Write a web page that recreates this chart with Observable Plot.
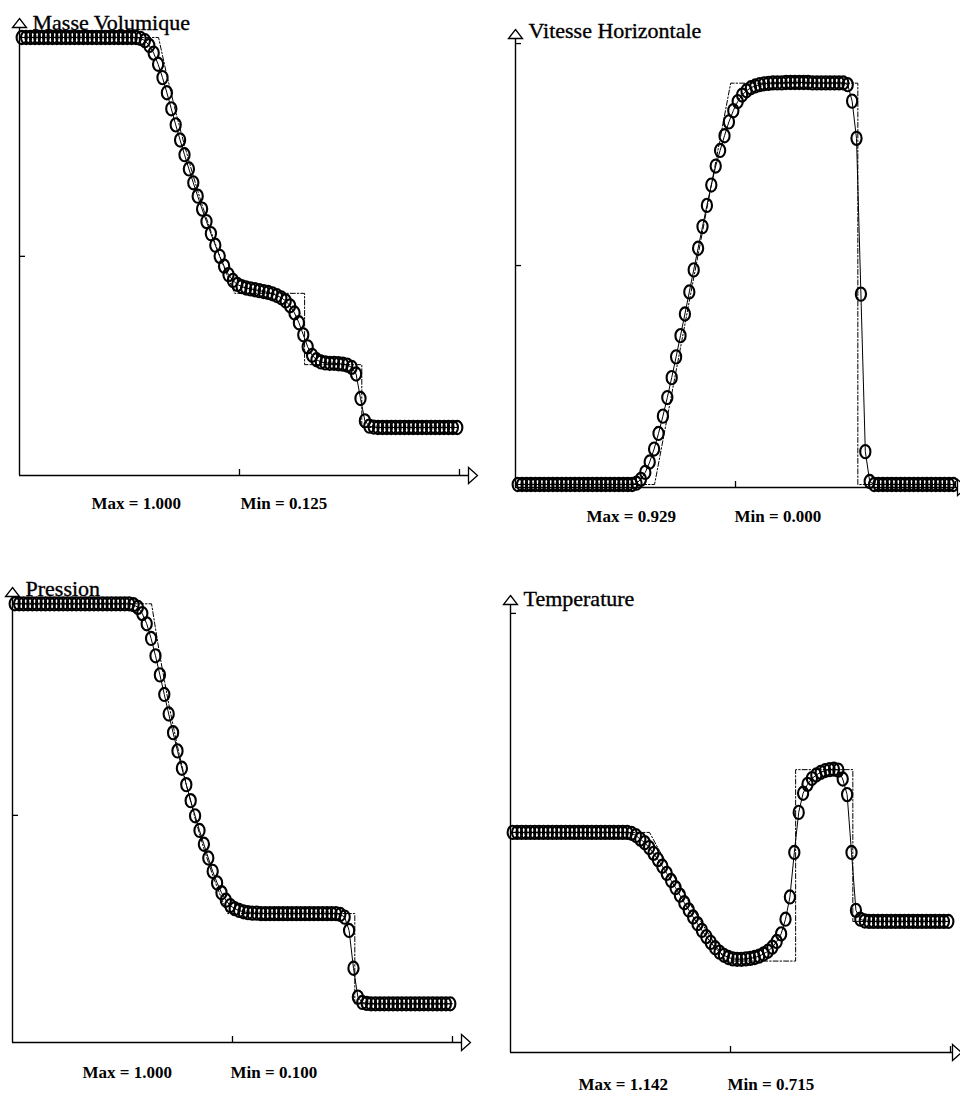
<!DOCTYPE html>
<html>
<head>
<meta charset="utf-8">
<script src="https://cdn.jsdelivr.net/npm/d3@7"></script>
<script src="https://cdn.jsdelivr.net/npm/@observablehq/plot@0.6"></script>
<style>
  html, body { margin: 0; padding: 0; background: #fff; }
  #chart { position: relative; width: 960px; height: 1094px; overflow: hidden; background: #fff; }
  .panel { position: absolute; width: 480px; height: 547px; }
  .panel svg { overflow: visible; }
</style>
</head>
<body>
<div id="chart"></div>
<script>
// ---- cell centres (100 cells on [0,1]) ----
const xCells = [0.005,0.015,0.025,0.035,0.045,0.055,0.065,0.075,0.085,0.095,
0.105,0.115,0.125,0.135,0.145,0.155,0.165,0.175,0.185,0.195,
0.205,0.215,0.225,0.235,0.245,0.255,0.265,0.275,0.285,0.295,
0.305,0.315,0.325,0.335,0.345,0.355,0.365,0.375,0.385,0.395,
0.405,0.415,0.425,0.435,0.445,0.455,0.465,0.475,0.485,0.495,
0.505,0.515,0.525,0.535,0.545,0.555,0.565,0.575,0.585,0.595,
0.605,0.615,0.625,0.635,0.645,0.655,0.665,0.675,0.685,0.695,
0.705,0.715,0.725,0.735,0.745,0.755,0.765,0.775,0.785,0.795,
0.805,0.815,0.825,0.835,0.845,0.855,0.865,0.875,0.885,0.895,
0.905,0.915,0.925,0.935,0.945,0.955,0.965,0.975,0.985,0.995];

// ---- numerical solution (circles) ----
const density = [1,1,1,1,1,1,1,1,1,1,
1,1,1,1,1,1,1,1,1,1,
1,1,1,1,1,1,1,0.998,0.993,0.982,
0.965,0.940,0.910,0.876,0.840,0.804,0.770,0.737,0.705,0.674,
0.644,0.615,0.587,0.560,0.534,0.509,0.487,0.468,0.455,0.446,
0.441,0.438,0.436,0.434,0.432,0.430,0.428,0.425,0.421,0.416,
0.409,0.398,0.382,0.360,0.333,0.306,0.287,0.277,0.272,0.270,
0.269,0.269,0.268,0.267,0.265,0.260,0.245,0.190,0.140,0.128,
0.126,0.125,0.125,0.125,0.125,0.125,0.125,0.125,0.125,0.125,
0.125,0.125,0.125,0.125,0.125,0.125,0.125,0.125,0.125,0.125];

const velocity = [0,0,0,0,0,0,0,0,0,0,
0,0,0,0,0,0,0,0,0,0,
0,0,0,0,0,0,0,0.003,0.012,0.028,
0.052,0.082,0.118,0.158,0.201,0.247,0.295,0.344,0.394,0.445,
0.496,0.546,0.596,0.645,0.692,0.736,0.772,0.806,0.838,0.864,
0.885,0.900,0.910,0.917,0.921,0.924,0.926,0.927,0.928,0.928,
0.928,0.929,0.929,0.929,0.929,0.929,0.929,0.928,0.928,0.928,
0.928,0.928,0.928,0.928,0.928,0.924,0.886,0.800,0.440,0.076,
0.007,0,0,0,0,0,0,0,0,0,
0,0,0,0,0,0,0,0,0,0];

const pressure = [1,1,1,1,1,1,1,1,1,1,
1,1,1,1,1,1,1,1,1,1,
1,1,1,1,1,1,1,0.998,0.992,0.978,
0.955,0.922,0.883,0.840,0.796,0.752,0.710,0.669,0.630,0.593,
0.557,0.523,0.490,0.459,0.428,0.398,0.372,0.350,0.333,0.321,
0.314,0.310,0.307,0.305,0.304,0.304,0.303,0.303,0.303,0.303,
0.303,0.303,0.303,0.303,0.303,0.303,0.303,0.303,0.303,0.303,
0.303,0.303,0.303,0.303,0.301,0.295,0.265,0.180,0.115,0.103,
0.101,0.100,0.100,0.100,0.100,0.100,0.100,0.100,0.100,0.100,
0.100,0.100,0.100,0.100,0.100,0.100,0.100,0.100,0.100,0.100];

const temperature = [1,1,1,1,1,1,1,1,1,1,
1,1,1,1,1,1,1,1,1,1,
1,1,1,1,1,1,1,0.998,0.993,0.985,
0.977,0.966,0.953,0.939,0.924,0.908,0.892,0.876,0.859,0.842,
0.826,0.810,0.795,0.780,0.766,0.753,0.741,0.731,0.724,0.719,
0.716,0.715,0.715,0.716,0.717,0.719,0.722,0.727,0.733,0.742,
0.755,0.772,0.805,0.855,0.955,1.045,1.088,1.108,1.121,1.129,
1.135,1.139,1.141,1.142,1.140,1.120,1.085,0.955,0.825,0.805,
0.801,0.800,0.800,0.800,0.800,0.800,0.800,0.800,0.800,0.800,
0.800,0.800,0.800,0.800,0.800,0.800,0.800,0.800,0.800,0.800];

// ---- exact solution (dash-dot line) ----
const fanX = [0, 0.316, 0.335, 0.355, 0.375, 0.395, 0.415, 0.435, 0.455, 0.475, 0.489];
const densityExactX = [...fanX, 0.648, 0.648, 0.778, 0.778, 1.0];
const densityExact = [1, 1, 0.915, 0.833, 0.758, 0.689, 0.624, 0.565, 0.510, 0.459, 0.426, 0.426, 0.266, 0.266, 0.125, 0.125];
const velocityExactX = [0, 0.316, 0.489, 0.778, 0.778, 1.0];
const velocityExact = [0, 0, 0.9275, 0.9275, 0, 0];
const pressureExactX = [...fanX, 0.778, 0.778, 1.0];
const pressureExact = [1, 1, 0.883, 0.775, 0.679, 0.593, 0.517, 0.449, 0.389, 0.337, 0.303, 0.303, 0.100, 0.100];
const temperatureExactX = [...fanX, 0.648, 0.648, 0.778, 0.778, 1.0];
const temperatureExact = [1, 1, 0.965, 0.930, 0.895, 0.861, 0.828, 0.796, 0.764, 0.733, 0.711, 0.711, 1.141, 1.141, 0.800, 0.800];

// ---- titles ----
const titles = ["Masse Volumique", "Vitesse Horizontale", "Pression", "Temperature"];

// ---- layout (positions/sizes only) ----
const W = 480, H = 547;
const panels = [
  {title: titles[0], values: density, exX: densityExactX, ex: densityExact,
   left: 0, top: 0, mL: 19, mR: 12, mT: 27, mB: 72, xMax: 1.0205, yMin: 0.0173, yMax: 1.0224,
   yTicks: [0.509], xTicks: [0.5, 1.0], titleDy: 2, labelDy: 33, maxDx: 72, minDx: 221},
  {title: titles[1], values: velocity, exX: velocityExactX, ex: velocityExact,
   left: 480, top: 0, mL: 35, mR: 3, mT: 38, mB: 60, xMax: 1.0045, yMin: -0.0069, yMax: 1.0307,
   yTicks: [0.506, 1.019], xTicks: [0.5, 1.0], titleDy: -1, labelDy: 34, maxDx: 71, minDx: 219},
  {title: titles[2], values: pressure, exX: pressureExactX, ex: pressureExact,
   left: 0, top: 547, mL: 12, mR: 19, mT: 49, mB: 52, xMax: 1.0205, yMin: 0.0129, yMax: 1.0164,
   yTicks: [0.524], xTicks: [0.5, 1.0], titleDy: -1, labelDy: 35, maxDx: 70, minDx: 218},
  {title: titles[3], values: temperature, exX: temperatureExactX, ex: temperatureExact,
   left: 480, top: 547, mL: 30, mR: 8, mT: 57, mB: 42, xMax: 1.0045, yMin: 0.5056, yMax: 1.512,
   yTicks: [1.492], xTicks: [0.5, 1.0], titleDy: 1, labelDy: 37, maxDx: 68, minDx: 217}
];

// custom symbols: ring (slightly tall ellipse) and hollow axis arrows
const ring = {
  draw(ctx) {
    const rx = 5.1, ry = 6.6, k = 0.5523;
    ctx.moveTo(rx, 0);
    ctx.bezierCurveTo(rx, ry * k, rx * k, ry, 0, ry);
    ctx.bezierCurveTo(-rx * k, ry, -rx, ry * k, -rx, 0);
    ctx.bezierCurveTo(-rx, -ry * k, -rx * k, -ry, 0, -ry);
    ctx.bezierCurveTo(rx * k, -ry, rx, -ry * k, rx, 0);
    ctx.closePath();
  }
};
const arrowUp = {
  draw(ctx) { ctx.moveTo(0, -9); ctx.lineTo(7, 0); ctx.lineTo(-7, 0); ctx.closePath(); }
};
const arrowRight = {
  draw(ctx) { ctx.moveTo(9, 0); ctx.lineTo(0, -8); ctx.lineTo(0, 8); ctx.closePath(); }
};

const fmt = d3.format(".3f");
const font = "'Liberation Serif', 'Times New Roman', Times, serif";

const chart = document.getElementById("chart");
for (const p of panels) {
  const rows = xCells.map((x, i) => ({x, v: p.values[i]}));
  const exRows = p.exX.map((x, i) => ({x, v: p.ex[i]}));
  const pxX = (W - p.mL - p.mR) / p.xMax;
  const pxY = (H - p.mT - p.mB) / (p.yMax - p.yMin);
  const tx = 6 / pxX, ty = 6 / pxY;
  const svg = Plot.plot({
    width: W, height: H,
    marginLeft: p.mL, marginRight: p.mR, marginTop: p.mT, marginBottom: p.mB,
    x: {domain: [0, p.xMax], axis: null},
    y: {domain: [p.yMin, p.yMax], axis: null},
    style: {fontFamily: font, background: "transparent", overflow: "visible", color: "black"},
    marks: [
      Plot.ruleX([0], {stroke: "black", strokeWidth: 1.4}),
      Plot.ruleY([p.yMin], {stroke: "black", strokeWidth: 1.4}),
      Plot.ruleY(p.yTicks, {x1: 0, x2: tx, stroke: "black", strokeWidth: 1.3}),
      Plot.ruleX(p.xTicks, {y1: p.yMin, y2: p.yMin + ty, stroke: "black", strokeWidth: 1.3}),
      Plot.line(exRows, {x: "x", y: "v", stroke: "black", strokeWidth: 1, strokeDasharray: "5,2,1.5,2"}),
      Plot.line(rows, {x: "x", y: "v", stroke: "black", strokeWidth: 1}),
      Plot.dot(rows, {x: "x", y: "v", symbol: ring, stroke: "black", fill: "none", strokeWidth: 2.1}),
      Plot.dot([{x: 0, y: p.yMax}], {x: "x", y: "y", symbol: arrowUp, fill: "white", stroke: "black", strokeWidth: 1.3}),
      Plot.dot([{x: p.xMax, y: p.yMin}], {x: "x", y: "y", symbol: arrowRight, fill: "white", stroke: "black", strokeWidth: 1.3}),
      Plot.text([p.title], {frameAnchor: "top-left", dx: 13, dy: p.titleDy, textAnchor: "start", lineAnchor: "bottom",
        fontSize: 22, fontFamily: font, fill: "black", stroke: "black", strokeWidth: 0.35}),
      Plot.text([`Max = ${fmt(d3.max(p.values))}`], {frameAnchor: "bottom-left", dx: p.maxDx, dy: p.labelDy,
        textAnchor: "start", lineAnchor: "bottom", fontSize: 17, fontWeight: "bold", fontFamily: font, fill: "black"}),
      Plot.text([`Min = ${fmt(d3.min(p.values))}`], {frameAnchor: "bottom-left", dx: p.minDx, dy: p.labelDy,
        textAnchor: "start", lineAnchor: "bottom", fontSize: 17, fontWeight: "bold", fontFamily: font, fill: "black"})
    ]
  });
  const wrap = document.createElement("div");
  wrap.className = "panel";
  wrap.style.left = p.left + "px";
  wrap.style.top = p.top + "px";
  wrap.appendChild(svg);
  chart.appendChild(wrap);
}
</script>
</body>
</html>
